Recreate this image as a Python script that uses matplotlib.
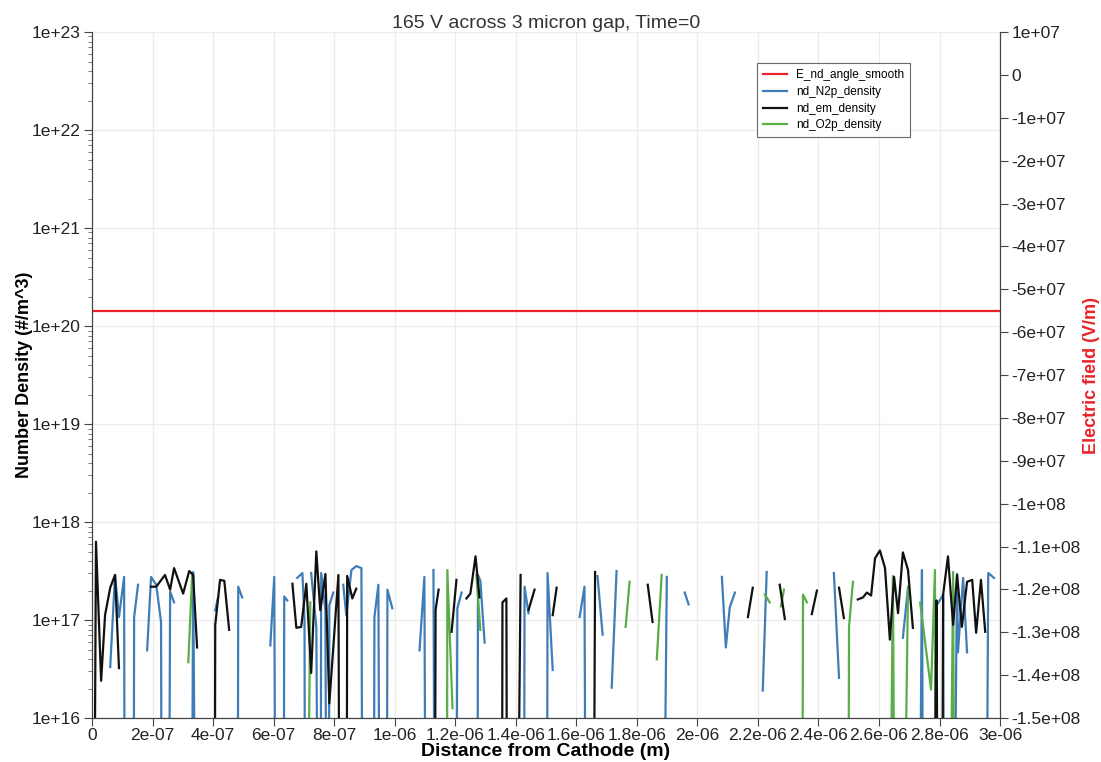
import numpy as np
import matplotlib.pyplot as plt
from matplotlib.ticker import FuncFormatter, MultipleLocator, LogLocator

plt.rcParams['font.family'] = ['Liberation Sans', 'DejaVu Sans']

nan = np.nan

# positions in nm, densities as log10(#/m^3); 12.0 marks a drop far below the axis
em_x = [3, 13, 30, 43, 60, 76, 89, nan,
        195, 212, 241, 258, 271, 301, 321, 334, 347, nan,
        404, 407, 423, 437, 453, nan,
        662, 675, 691, 708, 724, 741, 754, 771, 784, 814, 820, nan,
        840, 843, 860, 873, nan,
        1131, 1135, 1145, nan,
        1188, 1204, nan,
        1237, 1250, 1267, 1280, nan,
        1353, 1356, 1369, 1373, nan,
        1399, 1416, nan,
        1442, 1462, nan,
        1522, 1535, nan,
        1654, 1662, nan,
        1836, 1852, nan,
        2167, 2183, nan,
        2272, 2289, nan,
        2378, 2395, nan,
        2468, 2484, nan,
        2530, 2547, 2560, 2574, 2587, 2603, 2620, 2636, 2650, 2663, 2679, 2696, 2712, nan,
        2776, 2790, 2798, nan,
        2806, 2812, 2828, 2845, 2858, 2874, 2891, 2908, 2921, 2937, 2951]
em_logn = [12.0, 17.80, 16.38, 17.05, 17.33, 17.46, 16.51, nan,
           17.34, 17.34, 17.46, 17.31, 17.53, 17.27, 17.50, 17.46, 16.72, nan,
           12.0, 16.95, 17.41, 17.40, 16.90, nan,
           17.37, 16.92, 16.93, 17.37, 16.46, 17.70, 17.10, 17.47, 16.15, 17.46, 12.0, nan,
           12.0, 17.45, 17.22, 17.32, nan,
           12.0, 17.10, 17.31, nan,
           16.88, 17.41, nan,
           17.22, 17.27, 17.65, 17.23, nan,
           12.0, 17.18, 17.22, 12.0, nan,
           12.0, 17.46, nan,
           17.10, 17.31, nan,
           17.05, 17.33, nan,
           12.0, 17.49, nan,
           17.36, 16.98, nan,
           17.03, 17.33, nan,
           17.36, 17.01, nan,
           17.06, 17.30, nan,
           17.33, 17.02, nan,
           17.21, 17.23, 17.28, 17.25, 17.63, 17.71, 17.53, 16.80, 17.44, 17.07, 17.69, 17.51, 16.92, nan,
           12.0, 17.20, 12.0, nan,
           12.0, 17.26, 17.65, 16.95, 17.46, 16.93, 17.39, 17.41, 16.87, 17.41, 16.88]

n2p_x = [60, 76, 89, 106, 109, nan,
         136, 139, 152, nan,
         182, 195, 212, 228, 232, nan,
         251, 258, 271, nan,
         327, 334, 347, nan,
         407, 417, nan,
         480, 483, 496, nan,
         589, 602, 609, nan,
         632, 635, 645, nan,
         678, 695, 702, 705, nan,
         724, 741, 751, nan,
         754, 757, 771, 777, nan,
         781, 784, 797, nan,
         830, 840, 857, 873, 890, 896, nan,
         929, 933, 946, 953, nan,
         972, 976, 992, nan,
         1082, 1098, 1105, nan,
         1128, 1135, nan,
         1201, 1207, 1221, nan,
         1273, 1275, 1283, 1297, nan,
         1426, 1429, 1442, nan,
         1502, 1505, 1522, nan,
         1611, 1627, 1634, nan,
         1670, 1687, nan,
         1717, 1733, nan,
         1882, 1899, nan,
         1958, 1971, nan,
         2081, 2094, 2107, 2124, nan,
         2216, 2229, nan,
         2451, 2468, nan,
         2679, 2696, nan,
         2729, 2742, 2749, nan,
         2795, 2812, 2818, nan,
         2841, 2858, 2861, 2878, 2891, nan,
         2951, 2961, 2980]
n2p_logn = [16.52, 17.46, 17.03, 17.44, 12.0, nan,
            12.0, 17.03, 17.36, nan,
            16.69, 17.44, 17.36, 16.98, 12.0, nan,
            12.0, 17.29, 17.18, nan,
            12.0, 17.49, 12.0, nan,
            17.10, 17.24, nan,
            12.0, 17.34, 17.23, nan,
            16.74, 17.44, 12.0, nan,
            12.0, 17.24, 17.20, nan,
            17.43, 17.48, 17.00, 12.0, nan,
            17.48, 16.93, 12.0, nan,
            12.0, 17.48, 17.10, 12.0, nan,
            12.0, 17.15, 17.28, nan,
            17.36, 17.05, 17.51, 17.55, 17.53, 12.0, nan,
            12.0, 17.03, 17.36, 12.0, nan,
            12.0, 17.31, 17.12, nan,
            16.69, 17.44, 12.0, nan,
            17.51, 12.0, nan,
            12.0, 17.12, 17.28, nan,
            12.0, 17.46, 17.40, 16.77, nan,
            12.0, 17.34, 17.07, nan,
            12.0, 17.48, 16.49, nan,
            17.03, 17.34, 12.0, nan,
            17.45, 16.85, nan,
            16.31, 17.50, nan,
            12.0, 17.44, nan,
            17.28, 17.16, nan,
            17.44, 16.72, 17.13, 17.28, nan,
            16.28, 17.49, nan,
            17.48, 16.41, nan,
            16.82, 17.33, nan,
            12.0, 17.51, 12.0, nan,
            17.17, 17.26, 12.0, nan,
            12.0, 17.47, 16.67, 17.43, 16.67, nan,
            12.0, 17.48, 17.43]

o2p_x = [318, 331, nan,
         705, 721, nan,
         1171, 1174, 1191, nan,
         1270, 1283, nan,
         1763, 1776, nan,
         1866, 1882, nan,
         2223, 2239, nan,
         2276, 2286, nan,
         2345, 2349, 2362, nan,
         2497, 2501, 2514, nan,
         2630, 2646, 2656, nan,
         2673, 2696, nan,
         2736, 2772, 2785, 2789, nan,
         2828, 2845, 2851]
o2p_logn = [16.57, 17.47, nan,
            12.0, 17.18, nan,
            12.0, 17.51, 16.10, nan,
            17.46, 16.90, nan,
            16.93, 17.39, nan,
            16.60, 17.46, nan,
            17.26, 17.18, nan,
            17.14, 17.31, nan,
            12.0, 17.26, 17.18, nan,
            12.0, 16.93, 17.39, nan,
            12.0, 17.45, 12.0, nan,
            12.0, 17.34, nan,
            17.18, 16.29, 17.51, 12.0, nan,
            12.0, 17.49, 12.0]

# electric field along the gap (V/m)
field_x = [0, 3000]
field_v = [-5.5e7, -5.5e7]

fig = plt.figure(figsize=(11.01, 7.62), dpi=100)
ax = fig.add_axes([0.0836, 0.0577, 0.8247, 0.9003])
ax2 = ax.twinx()

def nm(v):
    return np.array(v, dtype=float) * 1e-9

def dens(v):
    return 10 ** np.array(v, dtype=float)

lw = 1.6
h_n2p, = ax.plot(nm(n2p_x), dens(n2p_logn), color='#3f7db9', lw=lw, label='nd_N2p_density')
h_o2p, = ax.plot(nm(o2p_x), dens(o2p_logn), color='#5aae47', lw=lw, label='nd_O2p_density')
h_em, = ax.plot(nm(em_x), dens(em_logn), color='#111111', lw=lw, label='nd_em_density')
h_e, = ax2.plot(nm(field_x), field_v, color='#e8242a', lw=lw, label='E_nd_angle_smooth')

ax.set_yscale('log')
ax.set_ylim(1e16, 1e23)
ax.set_xlim(0, 3e-6)
ax2.set_ylim(-1.5e8, 1e7)

fmt = FuncFormatter(lambda v, p: '0' if abs(v) < 1e-20 else '%g' % v)
ax.xaxis.set_major_locator(MultipleLocator(2e-7))
ax.xaxis.set_major_formatter(fmt)
ax.yaxis.set_major_locator(LogLocator(base=10, numticks=20))
ax.yaxis.set_minor_locator(LogLocator(base=10, subs=np.arange(2, 10), numticks=20))
ax.yaxis.set_major_formatter(FuncFormatter(lambda v, p: '%g' % v))
ax2.yaxis.set_major_locator(MultipleLocator(1e7))
ax2.yaxis.set_major_formatter(fmt)

ax.tick_params(axis='both', labelsize=12.5, color='#444444', length=6, labelcolor='#222222', pad=2)
ax.tick_params(axis='x', pad=1)
ax.tick_params(axis='y', which='minor', length=3, color='#666666')
ax2.tick_params(axis='y', labelsize=12.5, color='#444444', length=6, labelcolor='#222222', pad=2)

for a in (ax, ax2):
    a.spines['top'].set_visible(False)
    for s in ('left', 'right', 'bottom'):
        a.spines[s].set_color('#444444')

ax.grid(True, which='major', color='#ececec', lw=1.0)
ax.set_axisbelow(True)

ax.set_xlabel('Distance from Cathode (m)', fontsize=14, fontweight='bold')
ax.xaxis.set_label_coords(0.5, -0.049)
ax.xaxis.label.set_va('center')
ax.set_ylabel('Number Density (#/m^3)', fontsize=13, fontweight='bold')
ax.yaxis.set_label_coords(-0.074, 0.5)
ax.yaxis.label.set_va('center')
ax2.set_ylabel('Electric field (V/m)', fontsize=13, fontweight='bold', color='#e8242a')
ax2.yaxis.set_label_coords(1.101, 0.5)
ax2.yaxis.label.set_va('center')
ax.set_title('165 V across 3 micron gap, Time=0', fontsize=14, color='#333333', pad=-2)

leg = ax2.legend(handles=[h_e, h_n2p, h_em, h_o2p], loc='upper left',
                 bbox_to_anchor=(0.726, 0.963), fontsize=8.5, frameon=True,
                 fancybox=False, handlelength=2.0, borderpad=0.5, labelspacing=0.4)
leg.get_frame().set_edgecolor('#444444')
leg.get_frame().set_linewidth(0.8)

fig.savefig('out.png', dpi=100)
